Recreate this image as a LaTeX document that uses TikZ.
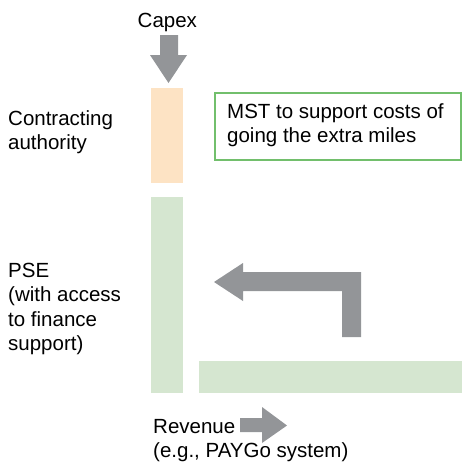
\documentclass[tikz,border=0pt]{standalone}
\usepackage{fontspec}
\setmainfont{Liberation Sans}
\definecolor{barorange}{HTML}{FDE3C4}
\definecolor{bargreen}{HTML}{D5E6D0}
\definecolor{arrowgray}{HTML}{939598}
\definecolor{boxgreen}{HTML}{72BF6C}
\begin{document}
\begin{tikzpicture}[x=1pt,y=-1pt,
  label/.style={inner sep=0pt,anchor=base west,align=left,
    font=\fontsize{20.5}{24.5}\selectfont},
  bar/.style={inner sep=0pt,draw=none},
  flow/.style={fill=arrowgray,draw=none}]
\useasboundingbox (0,0) rectangle (462,466);

% funding bars
\fill[barorange] (151,88) rectangle (183,183);
\node[bar] (ca) at (167,135.5) {};
\fill[bargreen] (151,197) rectangle (183,393);
\node[bar] (pse) at (167,295) {};
\fill[bargreen] (199,361) rectangle (462,393);
\node[bar] (rev) at (330,377) {};

% capex arrow
\fill[arrowgray] (160,35) -- (178,35) -- (178,55) -- (187,55) -- (168.5,83)
  -- (150,55) -- (160,55) -- cycle;

% bent return arrow
\fill[arrowgray] (361,272) -- (361,337) -- (342,337) -- (342,291) -- (243,291)
  -- (243,301) -- (214,282) -- (243,263) -- (243,272) -- cycle;

% revenue arrow
\fill[arrowgray] (240,418) -- (262,418) -- (262,407) -- (287,425.5)
  -- (262,443) -- (262,432) -- (240,432) -- cycle;

% MST box
\draw[boxgreen,line width=1.2pt,fill=white] (215,93) rectangle (461,160);
% multi-line labels are placed by the baseline of their last line
\node[label] (mst) at (227,142.5) {MST to support costs of\\going the extra miles};

% labels
\node[label] (capex) at (137.5,27) {Capex};
\node[label] (contract) at (8,149.5) {Contracting\\authority};
\node[label] (pselbl) at (8,350.5) {PSE\\(with access\\to finance\\support)};
\node[label] (revenue) at (153,457.5) {Revenue\\(e.g., PAYGo system)};
\end{tikzpicture}
\end{document}
